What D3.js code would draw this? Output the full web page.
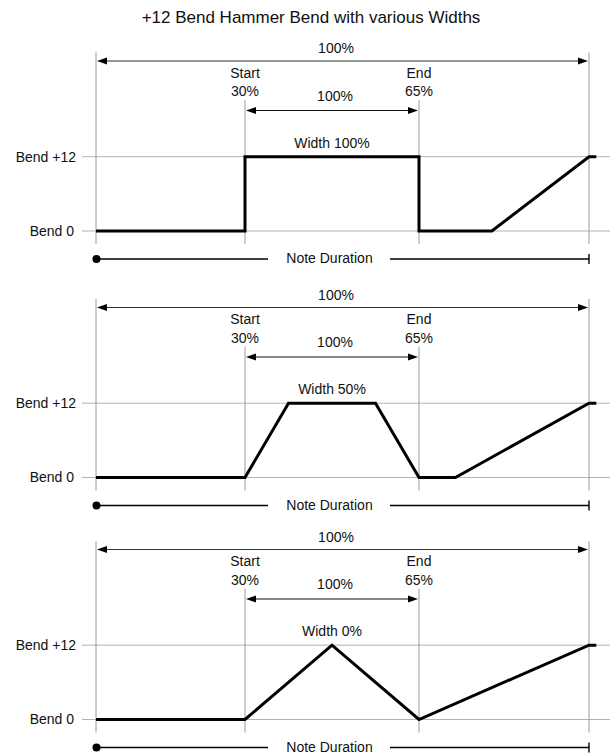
<!DOCTYPE html>
<html>
<head>
<meta charset="utf-8">
<script src="https://cdn.jsdelivr.net/npm/d3@7"></script>
<style>
  html, body { margin: 0; padding: 0; background: #fff; }
  svg text { font-family: "Liberation Sans", Arial, Helvetica, sans-serif; fill: #111; }
</style>
</head>
<body>
<svg id="chart" width="610" height="755"></svg>
<script>
// ---------- data ----------
const title = "+12 Bend Hammer Bend with various Widths";
const bendLevels = [0, 12];
const bendLabels = ["Bend 0", "Bend +12"];
const markerPercents = [0, 30, 65, 100];
const startPercent = 30;
const endPercent = 65;
const startLabel = ["Start", "30%"];
const endLabel = ["End", "65%"];
const spanLabel = "100%";
const innerSpanLabel = "100%";
const noteLabel = "Note Duration";
const widthLabels = ["Width 100%", "Width 50%", "Width 0%"];
const curveWidth100 = [[0,0],[30,0],[30,12],[65,12],[65,0],[80,0],[100,12],[101.5,12]];
const curveWidth50  = [[0,0],[30,0],[38.75,12],[56.25,12],[65,0],[72.5,0],[100,12],[101.5,12]];
const curveWidth0   = [[0,0],[30,0],[47.5,12],[65,0],[100,12],[101.5,12]];
const curves = [curveWidth100, curveWidth50, curveWidth0];

// ---------- layout ----------
const svg = d3.select("#chart");
const panelOffsets = [0, 246.5, 488.5];
const x = d3.scaleLinear().domain([0, 30, 65, 100]).range([96, 245, 419, 589]);

svg.append("text")
  .attr("x", 311).attr("y", 23)
  .attr("text-anchor", "middle")
  .style("font-size", "17px")
  .text(title);

function arrowHead(g, xTip, y, dir, color) {
  const L = 10, H = 3.5;
  g.append("path")
    .attr("d", `M${xTip},${y} L${xTip - dir * L},${y - H} L${xTip - dir * L},${y + H} Z`)
    .attr("fill", color);
}

curves.forEach((curve, i) => {
  const off = panelOffsets[i];
  const g = svg.append("g").attr("transform", `translate(0,${off})`);
  const y = d3.scaleLinear().domain([0, 12]).range([231, 156.7]);

  // horizontal gridlines
  g.selectAll("line.grid").data(bendLevels).enter().append("line")
    .attr("x1", 82).attr("x2", 610)
    .attr("y1", d => y(d)).attr("y2", d => y(d))
    .attr("stroke", "#b3b3b3").attr("stroke-width", 1);

  // bend labels
  g.selectAll("text.bend").data(bendLevels).enter().append("text")
    .attr("x", (d, j) => j === 0 ? 74 : 76)
    .attr("y", d => y(d))
    .attr("dy", "0.35em")
    .attr("text-anchor", "end")
    .style("font-size", "14px")
    .text((d, j) => bendLabels[j]);

  // vertical marker lines
  g.selectAll("line.vmark").data(markerPercents).enter().append("line")
    .attr("x1", d => x(d)).attr("x2", d => x(d))
    .attr("y1", d => (d === 0 || d === 100) ? 52.5 : 100)
    .attr("y2", 244)
    .attr("stroke", "#9a9a9a").attr("stroke-width", 1);

  // top 100% arrow
  const topY = 61;
  g.append("line")
    .attr("x1", x(0) + 4).attr("x2", x(100) - 4)
    .attr("y1", topY).attr("y2", topY)
    .attr("stroke", "#333").attr("stroke-width", 1);
  arrowHead(g, x(0) + 1, topY, -1, "#000");
  arrowHead(g, x(100) - 1, topY, 1, "#000");
  g.append("text").attr("x", 336).attr("y", 53)
    .attr("text-anchor", "middle").style("font-size", "14px").text(spanLabel);

  // start / end labels
  [[startPercent, startLabel], [endPercent, endLabel]].forEach(([p, lab]) => {
    g.append("text").attr("x", x(p)).attr("y", 77.5)
      .attr("text-anchor", "middle").style("font-size", "14px").text(lab[0]);
    g.append("text").attr("x", x(p)).attr("y", 96)
      .attr("text-anchor", "middle").style("font-size", "14px").text(lab[1]);
  });

  // inner 100% arrow
  const inY = 110.5;
  g.append("line")
    .attr("x1", x(startPercent) + 4).attr("x2", x(endPercent) - 4)
    .attr("y1", inY).attr("y2", inY)
    .attr("stroke", "#111").attr("stroke-width", 1);
  arrowHead(g, x(startPercent) + 1, inY, -1, "#000");
  arrowHead(g, x(endPercent) - 1, inY, 1, "#000");
  g.append("text").attr("x", 335).attr("y", 100.5)
    .attr("text-anchor", "middle").style("font-size", "14px").text(innerSpanLabel);

  // width label
  g.append("text").attr("x", 332).attr("y", 147.5)
    .attr("text-anchor", "middle").style("font-size", "14px").text(widthLabels[i]);

  // bend curve
  const line = d3.line().x(d => x(d[0])).y(d => y(d[1]));
  g.append("path")
    .datum(curve)
    .attr("d", line)
    .attr("fill", "none")
    .attr("stroke", "#000")
    .attr("stroke-width", 3)
    .attr("stroke-linejoin", "miter");

  // note duration
  const nY = 259;
  g.append("circle").attr("cx", x(0) + 0.5).attr("cy", nY).attr("r", 4).attr("fill", "#000");
  g.append("line").attr("x1", x(0)).attr("x2", 268).attr("y1", nY).attr("y2", nY)
    .attr("stroke", "#000").attr("stroke-width", 1.4);
  g.append("line").attr("x1", 390).attr("x2", x(100)).attr("y1", nY).attr("y2", nY)
    .attr("stroke", "#000").attr("stroke-width", 1.4);
  g.append("line").attr("x1", x(100)).attr("x2", x(100)).attr("y1", nY - 5).attr("y2", nY + 5)
    .attr("stroke", "#000").attr("stroke-width", 1.4);
  g.append("text").attr("x", 329.5).attr("y", nY).attr("dy", "0.3em")
    .attr("text-anchor", "middle").style("font-size", "14px").text(noteLabel);
});
</script>
</body>
</html>
